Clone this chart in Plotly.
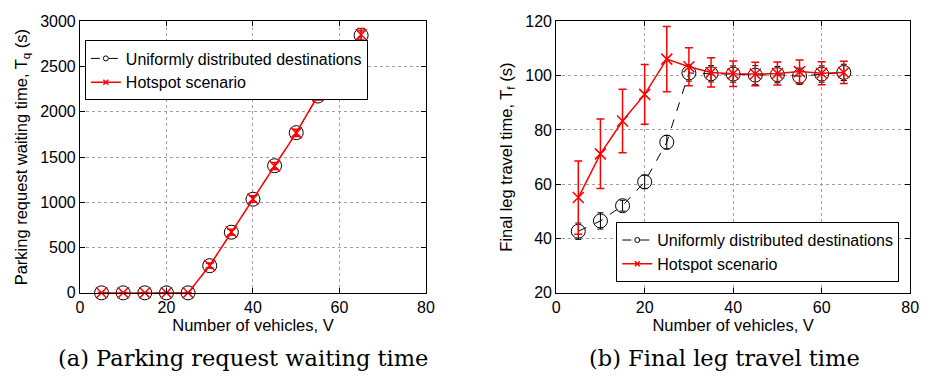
import plotly.graph_objects as go

vehicles = [5, 10, 15, 20, 25, 30, 35, 40, 45, 50, 55, 60, 65]

# (a) Parking request waiting time
wait_uniform = [0, 0, 0, 0, 0, 300, 670, 1035, 1405, 1770, 2175, 2510, 2845]
wait_uniform_err = [3, 3, 3, 3, 3, 25, 30, 30, 35, 35, 40, 45, 50]
wait_hotspot = [0, 0, 0, 0, 0, 302, 672, 1038, 1402, 1768, 2178, 2505, 2852]
wait_hotspot_err = [3, 3, 3, 3, 3, 28, 32, 35, 38, 40, 48, 55, 70]

# (b) Final leg travel time
leg_uniform = [42.7, 46.5, 52.1, 60.9, 75.5, 101.0, 100.7, 100.6, 100.2, 100.4, 99.8, 100.6, 101.2]
leg_uniform_err = [3.0, 3.0, 2.0, 2.5, 2.5, 3.0, 3.0, 3.0, 3.5, 3.0, 3.0, 3.0, 3.0]
leg_hotspot = [55.1, 71.2, 83.3, 93.1, 106.1, 103.3, 101.2, 100.7, 100.6, 100.8, 101.5, 100.9, 101.2]
leg_hotspot_err = [13.5, 12.8, 11.7, 11.0, 12.0, 7.0, 5.4, 4.7, 4.3, 4.2, 4.3, 4.2, 4.1]

name_u = "Uniformly distributed destinations"
name_h = "Hotspot scenario"
x_ticks = [0, 20, 40, 60, 80]

FONT = "Liberation Sans, Arial, sans-serif"
RED = "#ff0000"

fig = go.Figure()

def add_pair(xa, ya, yu, yue, yh, yhe, legend):
    fig.add_trace(go.Scatter(
        x=vehicles, y=yu, mode="lines+markers", xaxis=xa, yaxis=ya,
        line=dict(color="black", width=1, dash="dash"),
        marker=dict(symbol="circle-open", size=14, color="black", line=dict(width=1)),
        error_y=dict(type="data", array=yue, color="black", thickness=1, width=3),
        showlegend=False, hoverinfo="skip", cliponaxis=False))
    fig.add_trace(go.Scatter(
        x=vehicles, y=yh, mode="lines+markers", xaxis=xa, yaxis=ya,
        line=dict(color=RED, width=1.5),
        marker=dict(symbol="x-thin-open", size=11, color=RED, line=dict(width=1.5, color=RED)),
        error_y=dict(type="data", array=yhe, color=RED, thickness=1.5, width=4),
        showlegend=False, hoverinfo="skip", cliponaxis=False))
    # legend entries
    fig.add_trace(go.Scatter(
        x=[None], y=[None], mode="lines+markers", xaxis=xa, yaxis=ya, name=name_u,
        line=dict(color="black", width=1, dash="dash"),
        marker=dict(symbol="circle-open", size=5, color="black", line=dict(width=1)),
        legend=legend))
    fig.add_trace(go.Scatter(
        x=[None], y=[None], mode="lines+markers", xaxis=xa, yaxis=ya, name=name_h,
        line=dict(color=RED, width=1.5),
        marker=dict(symbol="x-thin-open", size=5, color=RED, line=dict(width=1.5, color=RED)),
        legend=legend))

add_pair("x", "y", wait_uniform, wait_uniform_err, wait_hotspot, wait_hotspot_err, "legend")
add_pair("x2", "y2", leg_uniform, leg_uniform_err, leg_hotspot, leg_hotspot_err, "legend2")

axis_common = dict(
    showline=True, linecolor="black", linewidth=1, mirror="ticks",
    ticks="inside", ticklen=5, tickcolor="black",
    showgrid=True, gridcolor="#a0a0a0", griddash="dot", gridwidth=1,
    zeroline=False, tickfont=dict(family=FONT, size=16, color="black"),
    title_font=dict(family=FONT, size=16.5, color="black"),
)

ydom = [1 - 298 / 385, 1 - 14 / 385]

fig.update_layout(
    width=930, height=385,
    margin=dict(l=0, r=0, t=0, b=0),
    paper_bgcolor="white", plot_bgcolor="white",
    font=dict(family=FONT, size=16, color="black"),
    xaxis=dict(domain=[77 / 930, 428 / 930], range=[0, 80], tickvals=x_ticks,
               title=dict(text="Number of vehicles, V", standoff=0), anchor="y", **axis_common),
    yaxis=dict(domain=ydom, range=[0, 3000], dtick=500,
               title=dict(text="Parking request waiting time, T<sub>q</sub> (s)", standoff=8),
               anchor="x", **axis_common),
    xaxis2=dict(domain=[560 / 930, 919 / 930], range=[0, 80], tickvals=x_ticks,
                title=dict(text="Number of vehicles, V", standoff=0), anchor="y2", **axis_common),
    yaxis2=dict(domain=ydom, range=[20, 120], dtick=20,
                title=dict(text="Final leg travel time, T<sub>f</sub> (s)", standoff=8),
                anchor="x2", **axis_common),
    legend=dict(x=82 / 930, y=1 - 34 / 385, xanchor="left", yanchor="top",
                bgcolor="white", bordercolor="black", borderwidth=1,
                font=dict(family=FONT, size=16, color="black"), tracegroupgap=0),
    legend2=dict(x=621 / 930, y=1 - 224 / 385, xanchor="left", yanchor="top",
                 bgcolor="white", bordercolor="black", borderwidth=1,
                 font=dict(family=FONT, size=16, color="black"), tracegroupgap=0),
    annotations=[
        dict(text="(a) Parking request waiting time", x=242 / 930, y=1 - 366 / 385,
             xref="paper", yref="paper", showarrow=False, xanchor="center", yanchor="middle",
             font=dict(family="DejaVu Serif, serif", size=22.5, color="black")),
        dict(text="(b) Final leg travel time", x=731 / 930, y=1 - 366 / 385,
             xref="paper", yref="paper", showarrow=False, xanchor="center", yanchor="middle",
             font=dict(family="DejaVu Serif, serif", size=22.5, color="black")),
    ],
)

fig.write_html("out.html")
